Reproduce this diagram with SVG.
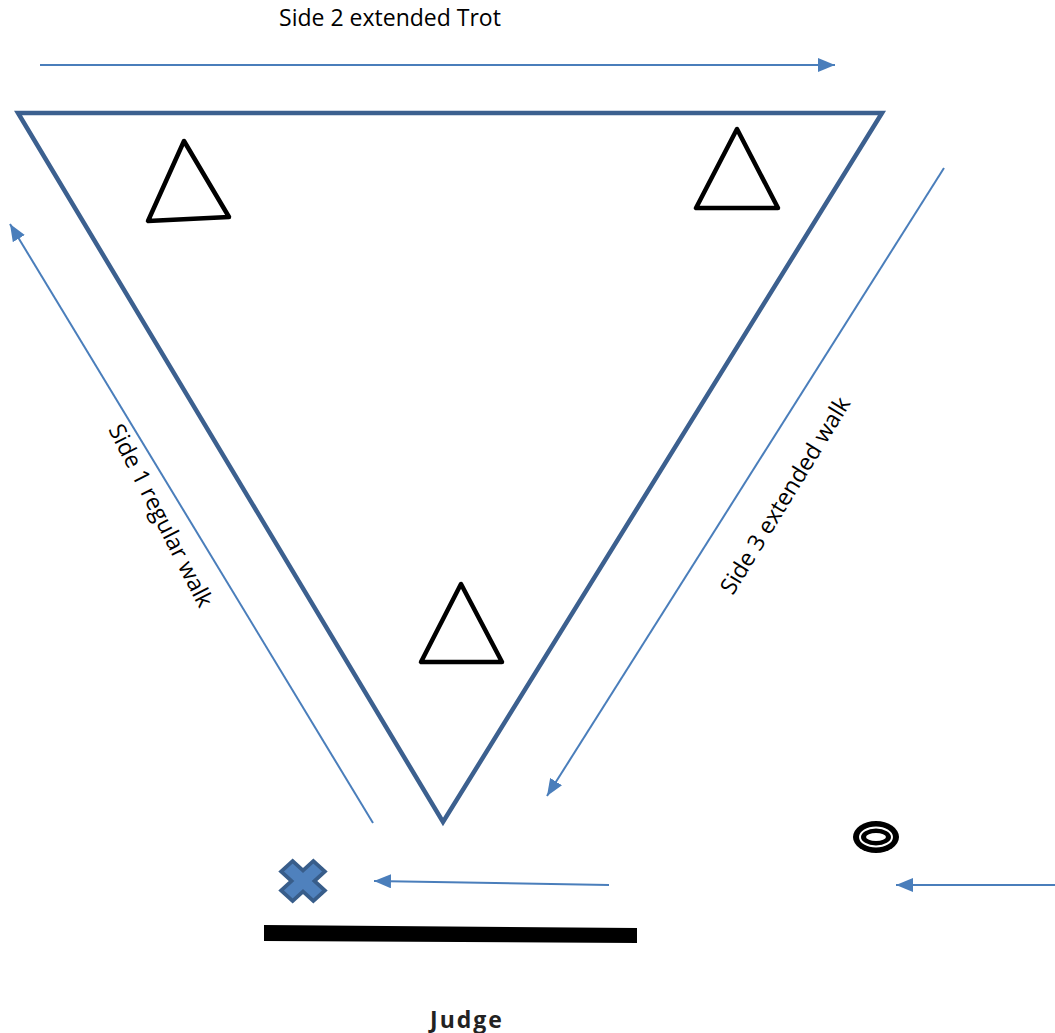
<svg xmlns="http://www.w3.org/2000/svg" width="1055" height="1033" viewBox="0 0 1055 1033">
<style>
.lbl{font-family:"Open Sans","Liberation Sans",sans-serif;font-size:23px;fill:#000}
.arr{stroke:#4a7ebb;stroke-width:2;fill:none}
.cone{fill:none;stroke:#000;stroke-width:4.5;stroke-linejoin:round}
</style>
<defs>
<marker id="ah" markerUnits="userSpaceOnUse" markerWidth="18" markerHeight="14" refX="17" refY="7" orient="auto">
<path d="M0,0 L17,7 L0,14 Z" fill="#4a7ebb"/>
</marker>
</defs>
<rect width="1055" height="1033" fill="#fff"/>
<g id="arena">
<path d="M18,113 L882,113 L443,822 Z" fill="none" stroke="#3c608f" stroke-width="4.5" stroke-linejoin="miter"/>
</g>
<g id="cone1"><path class="cone" d="M184,141 L148,221 L229,217 Z"/></g>
<g id="cone2"><path class="cone" d="M737,129 L696,208 L778,208 Z"/></g>
<g id="cone3"><path class="cone" d="M461,584 L421,662 L502,662 Z"/></g>
<g id="connectors">
<line class="arr" x1="40" y1="65" x2="835" y2="65" marker-end="url(#ah)"/>
<line class="arr" x1="373" y1="823" x2="10" y2="224" marker-end="url(#ah)"/>
<line class="arr" x1="944" y1="168" x2="547" y2="796" marker-end="url(#ah)"/>
<line class="arr" x1="609" y1="885" x2="374" y2="881" marker-end="url(#ah)"/>
<line class="arr" x1="1055" y1="885" x2="896" y2="885" marker-end="url(#ah)"/>
</g>
<g id="labels">
<text class="lbl" x="390" y="26" text-anchor="middle">Side 2 extended Trot</text>
<text class="lbl" transform="translate(160,516) rotate(63)" x="0" y="7" text-anchor="middle">Side 1 regular walk</text>
<text class="lbl" transform="translate(786,496) rotate(-58.5)" x="0" y="7" text-anchor="middle">Side 3 extended walk</text>
</g>
<g id="start-x">
<polygon transform="translate(303,881) scale(1.15,1.05)" points="-19,-9 -9,-19 0,-10 9,-19 19,-9 10,0 19,9 9,19 0,10 -9,19 -19,9 -10,0" fill="#4f81bd" stroke="#385d8a" stroke-width="3.5" stroke-linejoin="miter"/>
</g>
<g id="judge-bar">
<polygon points="264,925 637,928 637,943 264,941" fill="#000"/>
</g>
<g id="ring">
<ellipse cx="876" cy="837" rx="23" ry="16" fill="#000"/>
<ellipse cx="876" cy="837" rx="16" ry="9.5" fill="none" stroke="#fff" stroke-width="2"/>
<ellipse cx="876" cy="837" rx="10" ry="4" fill="#fff"/>
</g>
<g id="judge">
<text x="467" y="1028" text-anchor="middle" font-family="Open Sans, Liberation Sans, sans-serif" font-weight="bold" font-size="23" letter-spacing="2" fill="#222">Judge</text>
</g>
</svg>
